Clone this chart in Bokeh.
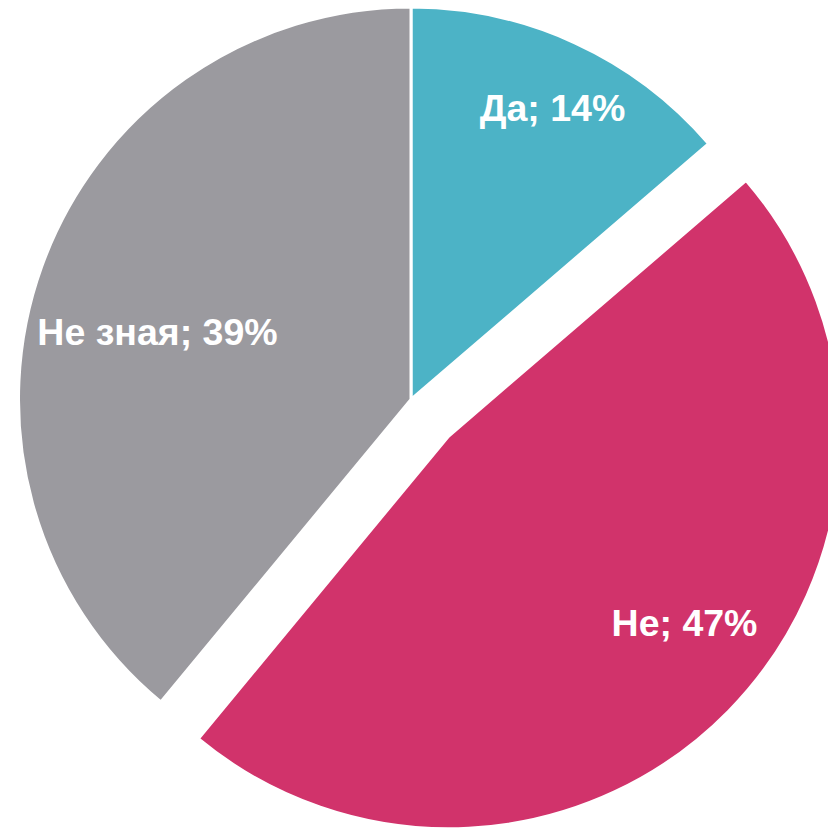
import math
from bokeh.plotting import figure
from bokeh.models import ColumnDataSource, Range1d
from bokeh.core.properties import value
from bokeh.embed import file_html
from bokeh.resources import INLINE

# ---- data ----
categories = ["Да", "Не", "Не зная"]
shares = [13.7, 47.3, 39.0]
label_pct = ["14%", "47%", "39%"]

# ---- styles / layout ----
colors = ["#4CB3C6", "#D1336B", "#9B9A9F"]
explode = [0.0, 52.5, 0.0]
CX, CY, R = 410.5, 429.0, 392.5
label_pos = [(552, 828 - 107), (684, 828 - 622), (157, 828 - 331)]

starts, ends, xs, ys = [], [], [], []
a = math.pi / 2
total = sum(shares)
for v, d in zip(shares, explode):
    a_end = a - 2 * math.pi * v / total
    starts.append(a_end)
    ends.append(a)
    mid = (a + a_end) / 2
    xs.append(CX + d * math.cos(mid))
    ys.append(CY + d * math.sin(mid))
    a = a_end

src = ColumnDataSource(dict(x=xs, y=ys, start=starts, end=ends, color=colors,
                            cat=categories))

p = figure(width=828, height=828, output_backend="svg", toolbar_location=None,
           x_range=Range1d(0, 828), y_range=Range1d(0, 828),
           min_border=0, outline_line_color=None)
p.axis.visible = False
p.grid.visible = False
p.background_fill_color = "white"
p.border_fill_color = "white"

p.wedge(x="x", y="y", radius=R, start_angle="start", end_angle="end",
        direction="anticlock", fill_color="color", line_color="white",
        line_width=3, source=src)

labels = [f"{c}; {t}" for c, t in zip(categories, label_pct)]
lsrc = ColumnDataSource(dict(x=[q[0] for q in label_pos], y=[q[1] for q in label_pos],
                             text=labels))
p.text(x="x", y="y", text="text", source=lsrc, text_color="white",
       text_font=value("Liberation Sans"), text_font_style="bold",
       text_font_size="37.5px", text_align="center", text_baseline="middle")

open("out.html", "w").write(file_html(p, INLINE))
